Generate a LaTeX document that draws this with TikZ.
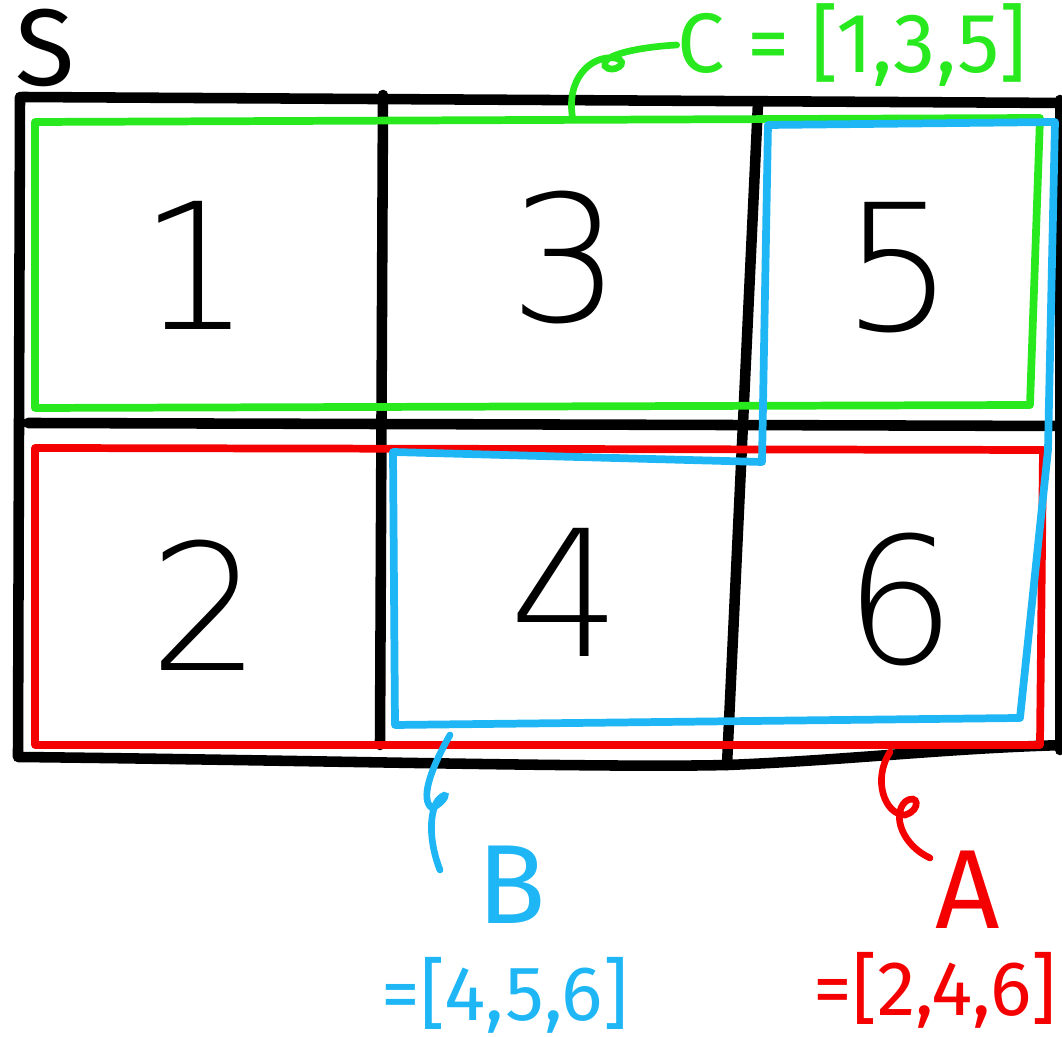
\documentclass[tikz,border=0pt]{standalone}
\usepackage{fontspec}
\setmainfont{Fira Sans}
\newfontfamily\thinfont{DejaVu Sans ExtraLight}
\usepackage{tikz}
\usetikzlibrary{positioning}
\definecolor{myink}{RGB}{0,0,0}
\definecolor{mygreen}{RGB}{40,232,30}
\definecolor{myblue}{RGB}{30,182,245}
\definecolor{myred}{RGB}{245,0,0}
\tikzset{
  gridline/.style={line width=3pt, color=myink, line cap=round, line join=round},
  setbox/.style={line width=2.2pt, line cap=round, line join=round},
  curl/.style={line width=1.9pt, line cap=round},
  digit/.style={font=\thinfont\fontsize{50}{50}\selectfont, color=myink, inner sep=0pt},
  setname/.style={font=\fontsize{32}{32}\selectfont, inner sep=0pt},
  setlist/.style={font=\fontsize{22}{22}\selectfont, inner sep=0pt}
}

\begin{document}
\begin{tikzpicture}[x=0.01cm, y=-0.01cm]
  \useasboundingbox (0,0) rectangle (1062,1037);

  % Draw the table S
  \draw[gridline] (22,97) -- (1066,103);
  \draw[gridline] (20,97) -- (18,757) .. controls (300,760) and (600,768) .. (728,765)
    .. controls (850,760) and (950,748) .. (1066,745);
  \draw[gridline] (28,423) -- (1066,426);
  \draw[gridline] (383,95) -- (380,745);
  \draw[gridline] (758,103) -- (727,765);
  \draw[gridline] (1060,100) -- (1060,750);
  \node[font=\fontsize{31}{31}\selectfont, inner sep=0pt] (sname) at (45,48) {S};

  % Cell numbers
  \foreach \n/\px/\py in {1/195/265, 3/565/258, 5/898/268, 2/205/605, 4/565/592, 6/900/600} {
    \node[digit] (cell\n) at (\px,\py) {\n};
  }

  % Set C (green)
  \draw[setbox, mygreen] (35,122) -- (1040,118) -- (1030,405) -- (35,408) -- cycle;
  \node[setlist, mygreen, font=\fontsize{24}{24}\selectfont] (clabel) at (852,45) {C = [1,3,5]};
  \coordinate (cfoot) at (573,120);
  \coordinate (ctail) at (clabel.west);
  \draw[curl, mygreen] (cfoot) .. controls (565,80) and (590,55) .. (615,58)
    .. controls (632,62) and (612,75) .. (605,66)
    .. controls (600,55) and (640,47) .. (ctail);

  % Set A (red)
  \draw[setbox, myred] (35,448) -- (1043,450) -- (1040,745) -- (35,745) -- cycle;
  \node[setname, myred] (aname) at (968,890) {A};
  \node[setlist, myred] (alist) at (935,990) {=[2,4,6]};
  \coordinate (afoot) at (890,752);
  \coordinate (atail) at (930,858);
  \draw[curl, myred] (afoot) .. controls (872,780) and (885,815) .. (905,815)
    .. controls (922,810) and (918,792) .. (905,802)
    .. controls (892,815) and (902,845) .. (atail);

  % Set B (blue)
  \draw[setbox, myblue] (768,125) -- (1055,122) -- (1048,450) -- (1020,718)
    -- (395,725) -- (393,452) -- (762,462) -- cycle;
  \node[setname, myblue] (bname) at (512,885) {B};
  \node[setlist, myblue] (blist) at (505,995) {=[4,5,6]};
  \coordinate (bfoot) at (450,735);
  \coordinate (btail) at (440,870);
  \draw[curl, myblue] (bfoot) .. controls (430,770) and (420,800) .. (432,808)
    .. controls (446,802) and (450,788) .. (438,800)
    .. controls (428,815) and (430,845) .. (btail);
\end{tikzpicture}
\end{document}
